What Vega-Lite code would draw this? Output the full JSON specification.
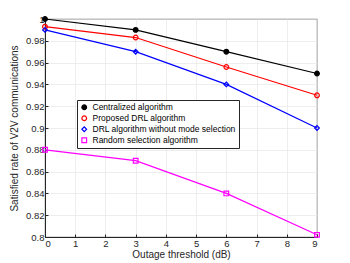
{
  "$schema": "https://vega.github.io/schema/vega-lite/v6.json",
  "width": 272,
  "height": 218,
  "autosize": {"type": "none"},
  "padding": {"left": 45, "top": 19, "right": 33, "bottom": 26},
  "background": "white",
  "config": {
    "view": {"stroke": "#262626", "strokeWidth": 0.8},
    "font": "Liberation Sans",
    "axis": {
      "labelFont": "Liberation Sans",
      "titleFont": "Liberation Sans",
      "labelFontSize": 9.5,
      "titleFontSize": 10,
      "titleFontWeight": "normal",
      "labelColor": "#262626",
      "titleColor": "#262626",
      "gridColor": "#e6e6e6",
      "gridWidth": 0.7,
      "domainColor": "#262626",
      "tickColor": "#262626",
      "tickSize": -3,
      "labelPadding": 4
    },
    "legend": {
      "orient": "none", "legendX": 32, "legendY": 81,
      "fillColor": "white",
      "strokeColor": "#262626",
      "padding": 3,
      "rowPadding": 1,
      "labelFontSize": 8.5,
      "labelColor": "#000000",
      "labelFont": "Liberation Sans",
      "symbolSize": 22,
      "symbolStrokeWidth": 1.2,
      "labelLimit": 300
    }
  },
  "data": {
    "values": [
      {"x": 0, "y": 1.0, "s": "Centralized algorithm"},
      {"x": 3, "y": 0.99, "s": "Centralized algorithm"},
      {"x": 6, "y": 0.97, "s": "Centralized algorithm"},
      {"x": 9, "y": 0.95, "s": "Centralized algorithm"},
      {"x": 0, "y": 0.993, "s": "Proposed DRL algorithm"},
      {"x": 3, "y": 0.983, "s": "Proposed DRL algorithm"},
      {"x": 6, "y": 0.956, "s": "Proposed DRL algorithm"},
      {"x": 9, "y": 0.93, "s": "Proposed DRL algorithm"},
      {"x": 0, "y": 0.99, "s": "DRL algorithm without mode selection"},
      {"x": 3, "y": 0.97, "s": "DRL algorithm without mode selection"},
      {"x": 6, "y": 0.94, "s": "DRL algorithm without mode selection"},
      {"x": 9, "y": 0.90, "s": "DRL algorithm without mode selection"},
      {"x": 0, "y": 0.88, "s": "Random selection algorithm"},
      {"x": 3, "y": 0.87, "s": "Random selection algorithm"},
      {"x": 6, "y": 0.84, "s": "Random selection algorithm"},
      {"x": 9, "y": 0.802, "s": "Random selection algorithm"}
    ]
  },
  "encoding": {
    "x": {
      "field": "x", "type": "quantitative",
      "scale": {"domain": [0, 9], "nice": false},
      "axis": {"values": [0,1,2,3,4,5,6,7,8,9], "title": "Outage threshold (dB)", "titlePadding": 2}
    },
    "y": {
      "field": "y", "type": "quantitative",
      "scale": {"domain": [0.8, 1], "nice": false, "zero": false},
      "axis": {"values": [0.8,0.82,0.84,0.86,0.88,0.9,0.92,0.94,0.96,0.98,1], "format": ".2~f", "title": "Satisfied rate of V2V communications", "titlePadding": 6}
    },
    "stroke": {
      "field": "s", "type": "nominal", "title": null,
      "scale": {
        "domain": ["Centralized algorithm", "Proposed DRL algorithm", "DRL algorithm without mode selection", "Random selection algorithm"],
        "range": ["#000000", "#ff0000", "#0000ff", "#ff00ff"]
      }
    }
  },
  "layer": [
    {"mark": {"type": "line", "strokeWidth": 1.2}},
    {
      "mark": {"type": "point", "size": 22, "strokeWidth": 1.2, "opacity": 1},
      "encoding": {
        "shape": {
          "field": "s", "type": "nominal", "title": null,
          "scale": {
            "domain": ["Centralized algorithm", "Proposed DRL algorithm", "DRL algorithm without mode selection", "Random selection algorithm"],
            "range": ["circle", "circle", "diamond", "square"]
          }
        },
        "fill": {
          "field": "s", "type": "nominal", "title": null,
          "scale": {
            "domain": ["Centralized algorithm", "Proposed DRL algorithm", "DRL algorithm without mode selection", "Random selection algorithm"],
            "range": ["#000000", "transparent", "transparent", "transparent"]
          }
        }
      }
    }
  ]
}
